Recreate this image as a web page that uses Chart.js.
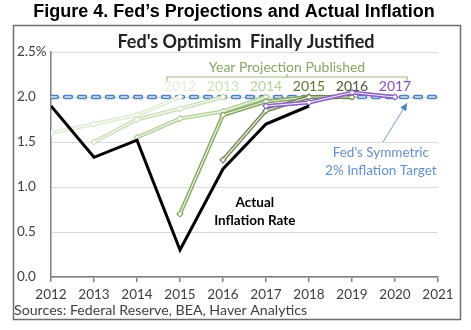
<!DOCTYPE html>
<html>
<head>
<meta charset="utf-8">
<script src="https://cdn.jsdelivr.net/npm/chart.js@4.4.1/dist/chart.umd.min.js"></script>
<style>
  html, body { margin: 0; padding: 0; background: #fff; }
  #wrap { width: 471px; height: 330px; position: relative; }
</style>
</head>
<body>
<div id="wrap"><canvas id="chart" width="471" height="330"></canvas></div>
<script>
// chart values
const xTicks = [2012, 2013, 2014, 2015, 2016, 2017, 2018, 2019, 2020, 2021];
const yTicks = [0, 0.5, 1.0, 1.5, 2.0, 2.5];

const actualYears = [2012, 2013, 2014, 2015, 2016, 2017, 2018];
const actualRate = [1.9, 1.33, 1.52, 0.3, 1.2, 1.7, 1.9];

const projYears = [2012, 2013, 2014, 2015, 2016, 2017];
const proj2012 = [1.6, 1.7, 1.8, 2.0];
const proj2013 = [1.5, 1.75, 1.87, 2.0];
const proj2014 = [1.55, 1.76, 1.84, 2.0];
const proj2015 = [0.7, 1.8, 1.95, 2.0];
const proj2016 = [1.3, 1.85, 2.0, 2.0];
const proj2017 = [1.9, 1.94, 2.05, 2.0];
const projections = [proj2012, proj2013, proj2014, proj2015, proj2016, proj2017];

const targetRate = 2.0;

// styling per projection year
const projLine = ['#dfecd4', '#cbe0ba', '#b0d096', '#86a862', '#6f8452', '#8c5fc2'];
const projText = ['#e3eed9', '#cadfba', '#b3d29b', '#5a7334', '#4c5838', '#8352bb'];

function pts(startYear, values) {
    return values.map((v, i) => ({x: startYear + i, y: v}));
}

const datasets = [];

// actual inflation, on top
datasets.push({
    data: pts(actualYears[0], actualRate),
    borderColor: '#000',
    borderWidth: 3,
    pointRadius: 0,
    order: 0
});

// projections drawn as double lines (outer colour + light core)
projections.forEach((vals, k) => {
    const base = (projections.length - k) * 2;
    datasets.push({
        data: pts(projYears[k], vals),
        borderColor: 'rgba(255,255,255,0.85)',
        borderWidth: 1.2,
        pointRadius: 0,
        order: base - 1
    });
    datasets.push({
        data: pts(projYears[k], vals),
        borderColor: projLine[k],
        borderWidth: 4,
        pointStyle: 'rectRot',
        pointRadius: 3,
        pointBackgroundColor: '#fff',
        pointBorderColor: projLine[k],
        pointBorderWidth: 1.2,
        order: base
    });
});

// 2% target, dashed double line at the bottom
datasets.push({
    data: [{x: xTicks[0], y: targetRate}, {x: xTicks[xTicks.length - 1], y: targetRate}],
    borderColor: '#dbe6f4',
    borderWidth: 1.4,
    borderDash: [6, 8],
    borderCapStyle: 'round',
    pointRadius: 0,
    order: 98
});
datasets.push({
    data: [{x: xTicks[0], y: targetRate}, {x: xTicks[xTicks.length - 1], y: targetRate}],
    borderColor: '#4f81bd',
    borderWidth: 4.5,
    borderDash: [6, 8],
    borderCapStyle: 'round',
    pointRadius: 0,
    order: 99
});

const bodyFont = 'Lato, "Open Sans", sans-serif';

const decor = {
    id: 'decor',
    beforeDraw(chart) {
        const ctx = chart.ctx;
        ctx.save();
        ctx.fillStyle = '#fff';
        ctx.fillRect(0, 0, chart.width, chart.height);
        ctx.strokeStyle = '#6e6e6e';
        ctx.lineWidth = 1.5;
        ctx.strokeRect(13.5, 25.5, 447, 294);
        ctx.restore();
    },
    afterDraw(chart) {
        const ctx = chart.ctx;
        const xs = chart.scales.x, ys = chart.scales.y;
        ctx.save();
        ctx.textAlign = 'center';
        ctx.textBaseline = 'middle';

        ctx.fillStyle = '#000';
        ctx.font = 'bold 18px "Liberation Sans", Arial, sans-serif';
        ctx.fillText("Figure 4. Fed\u2019s Projections and Actual Inflation", 234, 12);

        ctx.fillStyle = '#222';
        ctx.font = 'bold 18px ' + bodyFont;
        ctx.fillText("Fed's Optimism  Finally Justified", 246, 42);

        ctx.textAlign = 'left';
        ctx.fillStyle = '#404040';
        ctx.font = '14.2px ' + bodyFont;
        ctx.fillText('Sources: Federal Reserve, BEA, Haver Analytics', 14, 310);

        // "Year Projection Published" bracket
        ctx.textAlign = 'center';
        ctx.fillStyle = '#87a567';
        ctx.font = '14px ' + bodyFont;
        ctx.fillText('Year Projection Published', 287, 67);
        ctx.strokeStyle = '#9cba7d';
        ctx.lineWidth = 1.2;
        ctx.beginPath();
        ctx.moveTo(167, 81); ctx.lineTo(167, 77); ctx.lineTo(407, 77); ctx.lineTo(407, 81);
        ctx.moveTo(287, 77); ctx.lineTo(287, 74);
        ctx.stroke();

        // year labels above the end of each projection
        const yLab = ys.getPixelForValue(targetRate) - 11;
        ctx.font = '14px ' + bodyFont;
        projections.forEach((vals, k) => {
            const endYear = projYears[k] + vals.length - 1;
            ctx.fillStyle = projText[k];
            ctx.fillText(String(projYears[k]), xs.getPixelForValue(endYear), yLab);
        });

        // actual inflation label
        ctx.fillStyle = '#000';
        ctx.font = 'bold 13.5px ' + bodyFont;
        ctx.fillText('Actual', xs.getPixelForValue(2016.74), ys.getPixelForValue(0.83));
        ctx.fillText('Inflation Rate', xs.getPixelForValue(2016.74), ys.getPixelForValue(0.63));

        // target annotation with arrow
        ctx.fillStyle = '#6590c6';
        ctx.font = '13.5px ' + bodyFont;
        ctx.fillText("Fed's Symmetric", xs.getPixelForValue(2019.67), ys.getPixelForValue(1.38));
        ctx.fillText('2% Inflation Target', xs.getPixelForValue(2019.67), ys.getPixelForValue(1.18));

        const x1 = xs.getPixelForValue(2019.72), y1 = ys.getPixelForValue(1.5);
        const x2 = xs.getPixelForValue(2020.28), y2 = ys.getPixelForValue(1.93);
        ctx.strokeStyle = '#6f9bd0';
        ctx.lineWidth = 1;
        ctx.beginPath();
        ctx.moveTo(x1, y1); ctx.lineTo(x2, y2);
        ctx.stroke();
        const a = Math.atan2(y2 - y1, x2 - x1);
        ctx.fillStyle = '#4f81bd';
        ctx.beginPath();
        ctx.moveTo(x2, y2);
        ctx.lineTo(x2 - 8 * Math.cos(a - 0.45), y2 - 8 * Math.sin(a - 0.45));
        ctx.lineTo(x2 - 8 * Math.cos(a + 0.45), y2 - 8 * Math.sin(a + 0.45));
        ctx.closePath();
        ctx.fill();
        ctx.restore();
    }
};

new Chart(document.getElementById('chart'), {
    type: 'line',
    data: {datasets: datasets},
    options: {
        responsive: false,
        animation: false,
        events: [],
        layout: {padding: {left: 17, right: 33, top: 52, bottom: 25}},
        plugins: {legend: {display: false}, tooltip: {enabled: false}},
        elements: {line: {tension: 0}},
        scales: {
            x: {
                type: 'linear',
                min: xTicks[0],
                max: xTicks[xTicks.length - 1],
                afterBuildTicks: s => { s.ticks = xTicks.map(v => ({value: v})); },
                afterFit: s => { s.height = 28; },
                grid: {drawOnChartArea: false, drawTicks: true, tickLength: 5, color: '#7f7f7f', lineWidth: 1.5},
                border: {color: '#7f7f7f', width: 1.5},
                ticks: {
                    color: '#404040',
                    font: {family: bodyFont, size: 13.5},
                    padding: 5,
                    maxRotation: 0,
                    callback: v => String(v)
                }
            },
            y: {
                min: yTicks[0],
                max: yTicks[yTicks.length - 1],
                afterBuildTicks: s => { s.ticks = yTicks.map(v => ({value: v})); },
                afterFit: s => { s.width = 34; },
                grid: {color: '#d9d9d9', lineWidth: 1, drawTicks: false},
                border: {color: '#7f7f7f', width: 1.5},
                ticks: {
                    color: '#404040',
                    font: {family: bodyFont, size: 13.5},
                    crossAlign: 'far',
                    padding: 6,
                    callback: v => v === 2.5 ? '2.5%' : v.toFixed(1)
                }
            }
        }
    },
    plugins: [decor]
});
</script>
</body>
</html>
